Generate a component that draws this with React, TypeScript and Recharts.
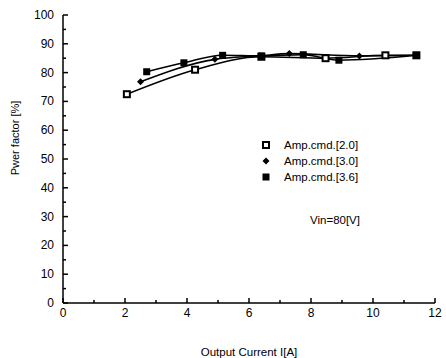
import { LineChart, Line, XAxis, YAxis } from 'recharts';

const SERIES_NAMES = ['Amp.cmd.[2.0]', 'Amp.cmd.[3.0]', 'Amp.cmd.[3.6]'];

// output current I[A] / power factor [%]
const AMP20_X = [2.06, 4.26, 6.4, 8.47, 10.4, 11.4];
const AMP20_Y = [72.5, 81.0, 85.5, 85.0, 86.0, 86.0];
const AMP30_X = [2.5, 4.9, 6.35, 7.3, 9.56, 11.4];
const AMP30_Y = [76.8, 84.6, 85.8, 86.6, 85.8, 86.0];
const AMP36_X = [2.7, 3.9, 5.15, 6.4, 7.75, 8.9, 11.4];
const AMP36_Y = [80.3, 83.4, 86.0, 85.8, 86.2, 84.3, 86.0];

const X_TICKS = [0, 1, 2, 3, 4, 5, 6, 7, 8, 9, 10, 11, 12];
const Y_TICKS = [0, 5, 10, 15, 20, 25, 30, 35, 40, 45, 50, 55, 60, 65, 70, 75, 80, 85, 90, 95, 100];

const FONT = '"Liberation Sans", Arial, sans-serif';

const toPoints = (xs: number[], ys: number[]) => xs.map((x, i) => ({ x, y: ys[i] }));
const amp20 = toPoints(AMP20_X, AMP20_Y);
const amp30 = toPoints(AMP30_X, AMP30_Y);
const amp36 = toPoints(AMP36_X, AMP36_Y);

const OpenSquare = ({ cx, cy }: any) => (
  <rect x={cx - 3} y={cy - 3} width={6} height={6} fill="#fff" stroke="#000" strokeWidth={2} />
);
const Diamond = ({ cx, cy }: any) => (
  <path d={`M${cx},${cy - 3.5} L${cx + 3.5},${cy} L${cx},${cy + 3.5} L${cx - 3.5},${cy} Z`} fill="#000" />
);
const FilledSquare = ({ cx, cy }: any) => (
  <rect x={cx - 3.5} y={cy - 3.5} width={7} height={7} fill="#000" />
);

const XTick = ({ x, y, payload }: any) => {
  const major = payload.value % 2 === 0;
  return (
    <g>
      <line x1={x} y1={y} x2={x} y2={y - (major ? 5 : 3)} stroke="#000" strokeWidth={1.5} />
      {major && (
        <text x={x} y={y + 14} textAnchor="middle" fontSize={12} fontFamily={FONT} fill="#000">
          {payload.value}
        </text>
      )}
    </g>
  );
};

const YTick = ({ x, y, payload }: any) => {
  const major = payload.value % 10 === 0;
  return (
    <g>
      <line x1={x} y1={y} x2={x + (major ? 5 : 3)} y2={y} stroke="#000" strokeWidth={1.5} />
      {major && (
        <text x={x - 9} y={y + 4} textAnchor="end" fontSize={12} fontFamily={FONT} fill="#000">
          {payload.value}
        </text>
      )}
    </g>
  );
};

const markerIcons = [
  <svg width={10} height={10} key="a"><rect x={2} y={2} width={6} height={6} fill="#fff" stroke="#000" strokeWidth={2} /></svg>,
  <svg width={10} height={10} key="b"><path d="M5,1.5 L8.5,5 L5,8.5 L1.5,5 Z" fill="#000" /></svg>,
  <svg width={10} height={10} key="c"><rect x={1.5} y={1.5} width={7} height={7} fill="#000" /></svg>,
];

export default function App() {
  return (
    <div style={{ position: 'absolute', left: 0, top: 0, width: 446, height: 358, background: '#fff' }}>
      <LineChart width={446} height={358} margin={{ top: 15, right: 11, left: 0, bottom: 0 }}>
        <XAxis
          type="number"
          dataKey="x"
          domain={[0, 12]}
          ticks={X_TICKS}
          interval={0}
          tickLine={false}
          tickSize={0}
          tickMargin={0}
          tick={<XTick />}
          height={55}
          axisLine={{ stroke: '#000', strokeWidth: 1.5 }}
          allowDuplicatedCategory={false}
          label={{ value: 'Output Current I[A]', position: 'insideBottom', offset: 2, fontSize: 11.5, fontFamily: FONT, fill: '#000' }}
        />
        <YAxis
          type="number"
          dataKey="y"
          domain={[0, 100]}
          ticks={Y_TICKS}
          interval={0}
          tickLine={false}
          tickSize={0}
          tickMargin={0}
          tick={<YTick />}
          width={63}
          axisLine={{ stroke: '#000', strokeWidth: 1.5 }}
          label={{
            content: () => (
              <text x={19} y={138} transform="rotate(-90 19 138)" textAnchor="middle" fontSize={11} fontFamily={FONT} fill="#000">
                Pwer factor [%]
              </text>
            ),
          }}
        />
        <Line data={amp20} dataKey="y" name={SERIES_NAMES[0]} type="monotone" stroke="#000" strokeWidth={1.6} dot={<OpenSquare />} activeDot={false} isAnimationActive={false} />
        <Line data={amp30} dataKey="y" name={SERIES_NAMES[1]} type="monotone" stroke="#000" strokeWidth={1.6} dot={<Diamond />} activeDot={false} isAnimationActive={false} />
        <Line data={amp36} dataKey="y" name={SERIES_NAMES[2]} type="monotone" stroke="#000" strokeWidth={1.6} dot={<FilledSquare />} activeDot={false} isAnimationActive={false} />
      </LineChart>
      <div style={{ position: 'absolute', left: 261, top: 137, fontFamily: FONT, fontSize: 11.5, lineHeight: '16px' }}>
        {SERIES_NAMES.map((name, i) => (
          <div key={name} style={{ display: 'flex', alignItems: 'center' }}>
            {markerIcons[i]}
            <span style={{ marginLeft: 13 }}>{name}</span>
          </div>
        ))}
      </div>
      <div style={{ position: 'absolute', left: 310, top: 214, fontFamily: FONT, fontSize: 11.5 }}>Vin=80[V]</div>
    </div>
  );
}
